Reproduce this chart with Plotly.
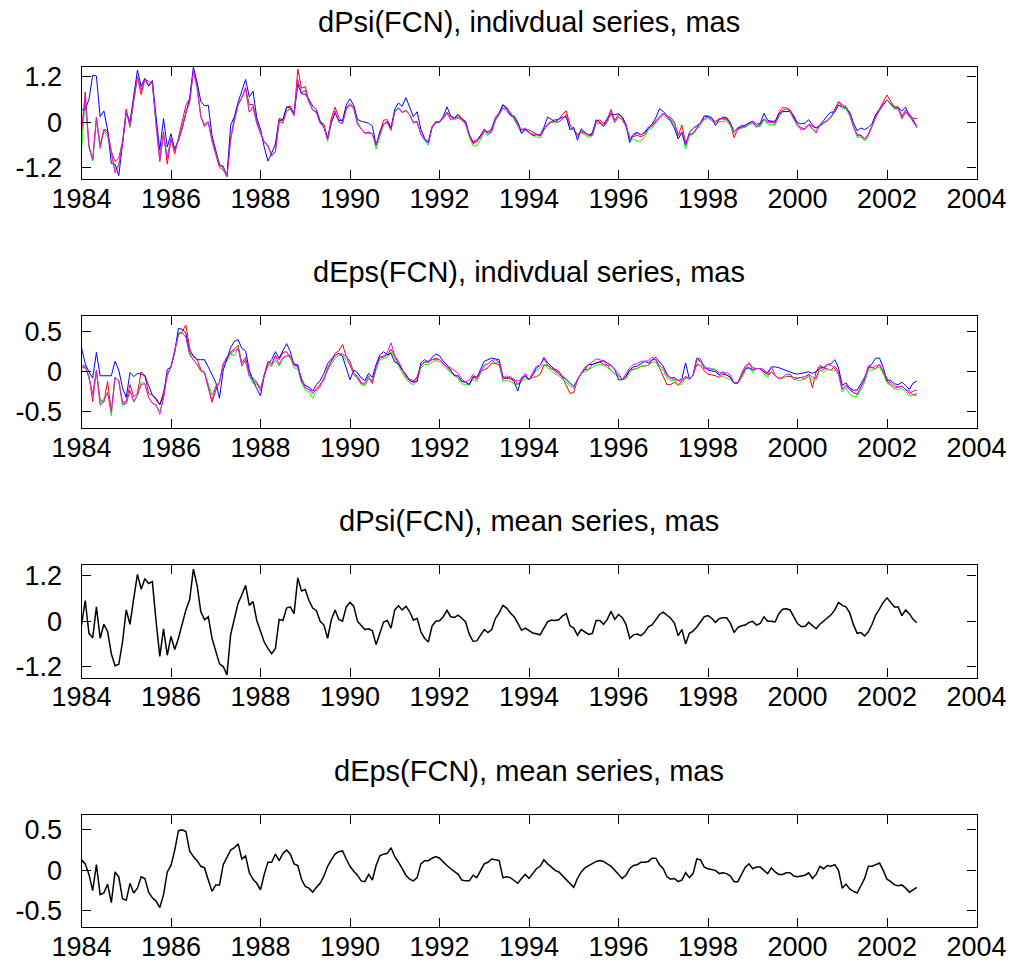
import plotly.graph_objects as go

# ---------------- data (monthly samples starting 1984.0) ----------------
psi_mean_rows = [
    [-0.10, 0.55, -0.32, -0.44, 0.38, -0.45, -0.08, -0.27, -0.86, -1.18, -1.14, -0.55],
    [0.30, -0.08, 0.60, 1.24, 0.85, 1.13, 1.00, 1.05, 0.00, -0.93, -0.20, -0.90],
    [-0.40, -0.75, -0.45, -0.10, 0.30, 0.57, 1.38, 0.95, 0.25, 0.04, 0.12, -0.45],
    [-0.78, -1.13, -1.20, -1.42, -0.35, 0.10, 0.48, 0.70, 0.95, 0.42, 0.52, 0.02],
    [-0.26, -0.55, -0.72, -0.86, -0.72, 0.05, 0.02, 0.35, 0.38, 0.20, 1.15, 0.80],
    [0.84, 0.55, 0.35, 0.28, 0.00, -0.10, -0.45, 0.04, 0.30, 0.05, 0.00, 0.38],
    [0.50, 0.40, 0.00, -0.12, -0.22, -0.20, -0.25, -0.62, -0.30, -0.02, 0.02, -0.18],
    [0.30, 0.41, 0.30, 0.40, 0.25, 0.03, 0.08, -0.28, -0.45, -0.55, -0.13, 0.00],
    [0.01, 0.12, 0.29, 0.12, 0.10, 0.16, 0.08, -0.02, -0.35, -0.53, -0.52, -0.38],
    [-0.22, -0.30, -0.22, 0.08, 0.22, 0.42, 0.35, 0.22, 0.12, -0.05, -0.24, -0.18],
    [-0.25, -0.31, -0.33, -0.36, -0.18, -0.01, 0.03, 0.02, 0.04, 0.14, 0.20, -0.12],
    [-0.18, -0.37, -0.22, -0.28, -0.35, -0.32, 0.02, 0.02, -0.08, 0.05, 0.26, 0.05],
    [0.18, 0.10, -0.08, -0.45, -0.36, -0.34, -0.38, -0.30, -0.15, -0.10, 0.04, 0.18],
    [0.24, 0.15, 0.08, -0.05, -0.38, -0.22, -0.60, -0.32, -0.26, -0.15, -0.02, 0.12],
    [0.15, 0.08, -0.03, 0.07, 0.09, 0.09, -0.05, -0.30, -0.17, -0.12, -0.10, -0.03],
    [0.00, -0.10, -0.06, 0.12, 0.00, 0.00, -0.02, 0.20, 0.32, 0.33, 0.30, 0.12],
    [-0.06, -0.14, -0.14, -0.03, -0.12, -0.20, -0.08, 0.00, 0.08, 0.17, 0.30, 0.50],
    [0.42, 0.38, 0.22, -0.09, -0.32, -0.30, -0.39, -0.28, -0.08, 0.17, 0.33, 0.50],
    [0.62, 0.50, 0.38, 0.38, 0.15, 0.30, 0.20, 0.05, -0.04],
]

eps_mean_rows = [
    [0.13, 0.08, -0.05, -0.25, 0.07, -0.30, -0.28, -0.17, -0.40, -0.02, -0.08, -0.35],
    [-0.37, -0.16, -0.28, -0.22, -0.08, -0.10, -0.27, -0.34, -0.38, -0.46, -0.30, -0.02],
    [0.06, 0.25, 0.49, 0.50, 0.48, 0.24, 0.17, 0.12, 0.05, 0.03, -0.12, -0.26],
    [-0.18, -0.18, 0.07, 0.16, 0.25, 0.28, 0.33, 0.14, 0.18, -0.03, -0.11, -0.16],
    [-0.24, -0.05, 0.10, 0.10, 0.20, 0.12, 0.21, 0.25, 0.20, 0.08, 0.06, -0.11],
    [-0.20, -0.22, -0.27, -0.21, -0.16, -0.07, 0.05, 0.13, 0.20, 0.23, 0.24, 0.14],
    [0.05, -0.01, -0.06, -0.13, -0.14, -0.05, -0.12, 0.06, 0.18, 0.20, 0.21, 0.28],
    [0.17, 0.10, 0.02, -0.06, -0.11, -0.13, -0.09, 0.08, 0.12, 0.12, 0.15, 0.17],
    [0.15, 0.10, 0.06, 0.02, -0.02, -0.05, -0.12, -0.13, -0.13, -0.06, -0.09, 0.00],
    [0.08, 0.10, 0.14, 0.13, 0.12, -0.09, -0.08, -0.09, -0.12, -0.16, -0.10, -0.05],
    [-0.10, -0.04, 0.02, 0.05, 0.13, 0.08, 0.04, 0.00, -0.02, -0.07, -0.12, -0.17],
    [-0.21, -0.10, -0.02, 0.03, 0.06, 0.09, 0.11, 0.12, 0.11, 0.08, 0.05, 0.00],
    [-0.05, -0.10, -0.06, 0.02, 0.06, 0.07, 0.10, 0.10, 0.11, 0.15, 0.15, 0.07],
    [0.02, -0.08, -0.11, -0.10, -0.14, -0.12, -0.03, -0.09, -0.04, 0.14, 0.13, 0.04],
    [0.02, 0.01, 0.00, -0.04, -0.03, -0.04, -0.07, -0.14, -0.14, -0.05, 0.04, 0.08],
    [0.02, 0.04, 0.04, 0.00, -0.04, 0.03, -0.02, -0.05, -0.05, -0.03, -0.03, -0.07],
    [-0.08, -0.07, -0.06, -0.03, -0.10, -0.05, 0.05, 0.02, 0.06, 0.05, 0.07, 0.00],
    [-0.22, -0.17, -0.23, -0.26, -0.28, -0.19, -0.10, 0.05, 0.05, 0.07, 0.09, 0.00],
    [-0.11, -0.14, -0.18, -0.19, -0.18, -0.22, -0.27, -0.24, -0.21],
]

# individual series, as differences from the mean (units of 0.01 mas)
psi_dev_red = [
    [-20, 25, -30, -55, -25, -15, -10, 5, 10, 15, 20, 5],
    [5, -5, -5, -5, -12, 0, 8, -3, -5, -10, -5, -20],
    [-5, -8, 5, 15, 15, 5, -3, 0, -10, -10, -10, -5],
    [-3, -5, -5, 0, -10, 3, 0, -5, -5, 5, -5, 0],
    [-3, 5, 10, 0, -5, 0, 3, 5, 5, 0, 25, 10],
    [10, 0, -3, 0, 2, 5, 0, 8, 10, 8, 2, 0],
    [0, 0, 0, -5, -5, -8, -5, 2, 5, 8, 5, 3],
    [-2, -3, -3, -8, -5, -3, -5, -3, 0, 2, 2, 0],
    [0, 0, -2, 3, 3, 5, 3, 0, 0, -3, 0, 5],
    [5, 0, 2, -2, 0, 3, 5, 3, 0, 3, 3, 0],
    [5, 5, 3, 0, 0, -3, 0, 5, 3, 8, 10, 5],
    [0, 5, -3, 0, 3, 0, 0, 5, 5, 3, 8, 0],
    [3, 3, 0, 5, 0, 0, 0, -3, 0, 0, 0, -3],
    [0, 0, 5, 5, 3, 15, 5, 0, -3, 0, 3, 3],
    [3, 0, 5, 3, 0, 3, 0, -10, 0, 5, 0, 3],
    [0, -3, 3, -3, 0, 3, 0, 5, 7, 5, 3, 3],
    [0, 0, -3, -2, 3, 5, 0, -3, -5, -3, 5, 5],
    [5, 3, 0, -3, -3, -5, -5, -3, 0, 3, 3, 5],
    [10, 5, 3, 3, 0, 3, 0, 5, 14],
]
psi_dev_green = [
    [-60, 0, -35, -58, -32, -25, -15, -10, 5, -8, 5, 0],
    [0, -5, -3, -4, 3, -3, -3, -2, -5, -5, -12, 0],
    [-3, 3, 0, -5, -5, -5, -3, -8, -10, -15, -12, -3],
    [0, 5, -2, 0, -8, -5, -3, -5, -10, -15, -15, -5],
    [-3, 3, 8, -3, -5, -3, -5, -5, -3, -3, -8, -3],
    [0, -3, -3, -3, -3, -2, -5, -3, -5, -5, -4, -5],
    [-5, -3, -3, -5, -8, -5, -5, -8, -5, -3, -3, -3],
    [-3, -4, -5, -8, -5, -5, -7, -4, -3, -5, -2, -2],
    [-2, -3, -5, -5, -3, -5, -3, -3, -5, -8, -10, -5],
    [-5, -5, -3, -3, -3, -3, -5, -3, -5, -5, -5, -3],
    [-3, -3, -5, -5, -3, -5, -3, -3, -3, -5, -5, -2],
    [-3, 0, -5, -5, -5, -3, -5, -5, -3, -5, -5, -5],
    [-3, -5, -3, 0, -8, -15, -12, -8, -5, -5, -5, -8],
    [-5, -5, -3, 0, -5, -5, -10, -5, -5, -5, -5, -5],
    [-5, -3, -3, -5, -5, -5, -5, 0, -3, -3, -3, -3],
    [-3, -2, -5, -5, -5, -5, -5, -5, -5, -3, -3, -5],
    [-5, -5, -5, -5, -5, -3, -3, -3, -3, -5, -3, -3],
    [-5, -3, -5, -5, -8, -8, -10, -8, -5, -3, -3, -3],
    [-3, -3, -3, -3, -5, -5, -3, -5, -2],
]
psi_dev_blue = [
    [42, -20, 92, 168, 84, 60, 38, 7, -22, 8, -26, -5],
    [-5, 10, 10, 13, 10, 3, -5, 5, 15, 20, 30, 25],
    [10, 5, -3, -5, -5, 5, 8, 10, 30, 40, 33, 10],
    [5, 0, 5, 0, 28, 5, 5, 15, 18, 25, 30, 10],
    [8, -10, -30, 5, 15, 5, 5, 5, 0, 5, -15, -5],
    [-10, 5, 8, 5, 3, -3, 5, -5, -5, 0, 5, 8],
    [12, 5, 8, 15, 22, 18, 15, 2, 5, -3, 0, 3],
    [5, 10, 12, 25, 15, 12, 20, 10, 3, 3, 0, 2],
    [0, 3, 12, 5, 0, 3, 0, 5, 3, 0, 5, 3],
    [0, 5, 5, 5, 3, 5, 0, -3, 5, 5, -5, 0],
    [0, -3, 0, 3, 5, 15, 5, 0, 5, 0, -5, -8],
    [5, -10, 5, 3, 0, 5, 5, -3, 0, 5, -3, 15],
    [5, 5, 3, -8, 5, 8, 5, 3, 0, 5, 8, 18],
    [5, 3, -5, -10, -5, -5, 0, 5, 10, 5, 0, 5],
    [0, 5, -5, 0, 5, 3, 5, 5, 3, 0, 3, 0],
    [3, 5, 3, 12, 5, 3, 5, 3, -3, -5, 0, 5],
    [5, 10, 12, 10, 5, 5, 0, 5, 10, 10, -3, -5],
    [0, 0, 5, 8, 10, 15, 20, 15, 5, 3, 0, -3],
    [-3, 0, 0, 0, 15, 10, -5, 3, -10],
]
psi_dev_magenta = [
    [-10, 10, -30, -55, -27, -20, -13, -2, 7, -15, 1, 0],
    [0, 0, -2, -4, -1, 0, 0, 0, -5, -5, -13, -5],
    [-2, 0, -2, -5, -5, -5, -2, -2, -10, -15, -11, -2],
    [-2, 0, 2, 0, -10, -3, -2, -5, -3, -15, -10, -5],
    [-2, 2, 12, -2, -5, -2, -3, -5, -2, -2, -2, -2],
    [0, -2, -2, -2, -2, 0, 0, 0, 0, -3, -3, -3],
    [-5, -2, -5, -5, -7, -5, -5, 3, -3, -2, -2, -3],
    [0, -3, -4, -9, -5, -4, -8, -3, 0, 0, 0, 0],
    [2, 0, -5, -3, 0, -3, 0, -2, 2, 3, 5, -3],
    [0, 0, -3, 0, 0, -5, 0, 3, 0, -3, 5, 3],
    [-2, 0, 2, 2, -2, -5, -2, 0, -3, -3, 0, 5],
    [0, 3, 0, 0, 0, -2, 0, 0, -3, -2, 0, -5],
    [-3, -2, 0, 3, 3, 5, 5, 5, 3, 0, -3, -5],
    [0, 0, 0, 3, 5, -3, 5, 0, -2, 0, 2, -3],
    [0, -2, 3, 2, 0, -2, 0, 5, 0, -2, 0, 0],
    [0, 0, -2, -3, 0, 0, 0, -3, 0, 3, 0, -3],
    [0, -5, -3, -3, -5, -8, 3, 0, -2, -2, 0, 3],
    [0, 0, 0, 0, 0, -3, -5, -5, 0, -3, 0, 0],
    [-3, -2, 0, 0, -5, -3, 0, -3, -8],
]

eps_dev_red = [
    [-8, -3, 0, -12, -5, -5, -10, 5, -10, -5, -3, -3],
    [0, 0, -3, -5, 8, 5, 0, 5, 3, 5, 5, -3],
    [0, 0, -2, 0, 10, 5, 2, 3, -2, -5, -10, -12],
    [-5, 5, 3, 0, 0, 0, 0, -3, 0, 0, 3, 3],
    [3, 0, 3, 0, 0, 3, 3, 0, -3, 3, 0, 0],
    [0, 0, 0, 0, 0, -3, 0, 0, 3, 3, 10, 5],
    [8, 0, 0, 0, -3, -3, 0, 0, 0, 0, 0, 0],
    [3, 0, 0, 0, 0, 0, 3, 0, 0, 0, 0, 0],
    [0, 0, 0, -2, -2, -3, 0, 0, -3, 0, 3, 0],
    [-5, -5, -3, -3, -3, 0, 0, 0, 3, 0, 0, 0],
    [0, -3, -8, -8, -5, 0, 0, 3, 3, 0, -5, -10],
    [-5, 0, 0, 0, -3, 0, 0, 0, -2, 0, -3, -3],
    [0, 0, 0, 0, -3, -3, -3, -3, -3, 0, 0, -3],
    [-8, -8, -5, -3, -3, 0, -3, 0, 0, -5, -5, -3],
    [-5, -5, -5, -3, 0, 0, 0, 0, 0, 3, 3, 3],
    [3, 0, 0, 0, 0, -3, -3, -3, -3, -3, -3, 0],
    [0, 0, -3, 0, -10, 5, 3, 3, -3, -3, 0, 0],
    [0, 0, 3, 0, 0, 0, 0, 0, 0, -3, 0, 0],
    [0, -3, -3, 0, 0, 0, 3, -5, -6],
]
eps_dev_green = [
    [-5, 0, -3, -3, -7, -10, -5, -8, -15, -5, -3, -7],
    [-3, -8, -10, -8, -5, -5, -5, -5, -5, -3, -2, -2],
    [0, -2, 0, -2, -5, -3, -3, -3, -5, -3, -3, -3],
    [0, 5, 0, -3, -3, -8, -3, -5, -5, -3, -3, 0],
    [3, 0, -3, -3, -5, -5, -5, -5, -3, -3, -3, -3],
    [-3, -3, -6, -3, -3, 0, -3, -3, -3, -3, -3, 0],
    [3, 0, -3, -3, -3, -3, -3, -3, -3, -3, -3, -3],
    [0, -3, -3, -3, -3, -3, -3, -3, -3, -3, -3, -3],
    [-3, -3, -3, -3, -3, -3, -3, -3, -3, -3, -3, -3],
    [0, 0, 0, -2, 0, -3, -3, -3, -3, 0, -3, -3],
    [0, 0, 0, 0, -3, -3, -3, -3, -3, -2, 0, 0],
    [0, 0, 0, -3, -3, -3, -3, -3, -3, -3, -3, -3],
    [0, 0, -3, -3, -3, -3, -3, -3, -3, -3, -3, -3],
    [0, 0, 0, 0, -3, -3, -5, 0, 0, 0, 0, 0],
    [3, 3, 3, 0, -3, -3, -3, 0, 0, -3, -3, -3],
    [-3, 0, 0, -3, -3, -3, -3, -3, -3, -3, 0, 0],
    [-3, -3, -3, -3, 0, -5, -3, -3, -3, -3, -5, -3],
    [-3, -3, -5, -5, -3, -3, -3, -3, -3, -3, -3, -3],
    [-3, -3, -3, -3, -3, -3, -3, -5, -9],
]
eps_dev_blue = [
    [17, 2, 5, 17, 17, 25, 23, 12, 35, 15, 10, 15],
    [5, 15, 22, 20, 5, 5, 10, 5, 5, 5, 0, 5],
    [0, 0, 5, 3, 0, 0, 3, 3, 10, 12, 18, 22],
    [5, -15, -5, 0, 5, 10, 7, 15, 8, 5, 0, -5],
    [-6, 0, 0, 5, 5, 5, 5, 10, 5, 0, 3, 0],
    [3, 3, 3, 5, 5, 5, 5, 3, 0, 0, -5, -10],
    [-15, 3, 5, 5, 3, 3, 5, 3, 3, 5, 0, -5],
    [-5, 0, 0, 3, 0, 0, -3, 3, 3, 0, 3, 5],
    [5, 3, 3, 0, -3, 0, 0, 0, -3, 0, 0, 3],
    [5, 5, 3, 3, 3, 3, 0, 3, 0, -8, 3, 0],
    [0, 0, 3, 3, 5, 3, 3, 3, 0, 0, 3, 3],
    [3, 0, 0, 0, 3, 0, 0, 0, 3, 3, 3, 3],
    [-5, 0, 0, 0, 0, 0, 0, 3, 0, 0, 3, 5],
    [5, 5, 3, 3, 3, 3, 14, 0, 0, 3, 0, 3],
    [0, 0, 0, 0, 3, 0, 0, 0, 0, 0, 0, -3],
    [0, 0, 0, 0, 3, 3, 8, 10, 8, 5, 3, 5],
    [5, 5, 5, 3, 8, 5, 0, 3, 3, 5, 8, 5],
    [5, 3, 3, 3, 5, 5, 3, 0, 5, 10, 8, 5],
    [0, 3, 3, 3, 5, 5, 5, 10, 9],
]
eps_dev_magenta = [
    [-5, -2, -2, -3, -5, -12, -8, -9, -10, -5, -4, -5],
    [-2, -7, -9, -7, -8, -5, -5, -5, -3, -7, -3, 0],
    [0, 2, -3, -1, -5, -2, -2, -3, -3, -4, -6, -10],
    [0, 5, 2, 3, -2, -2, -4, -7, -3, -2, 0, 2],
    [0, 0, 0, -2, 0, -3, -3, -5, 0, 0, 0, 3],
    [0, 0, 3, -2, -2, -2, -2, 0, 0, 0, -2, 5],
    [3, -3, -2, -2, 0, 0, -2, 0, 0, -2, 3, 8],
    [3, 3, 2, 0, 2, 2, 0, 0, 0, 2, 0, -2],
    [0, 0, 0, 3, 3, 3, 3, 0, 3, 3, 0, 0],
    [0, 0, 0, 2, 0, 0, 3, 0, 0, 5, 0, 3],
    [0, 3, 5, 3, 3, 0, 0, 0, 0, 2, 2, 3],
    [2, 0, 0, 3, 3, 3, 5, 3, 2, 0, 3, 3],
    [3, 0, 3, 3, 3, 3, 3, 3, 3, 3, 0, 0],
    [3, 3, 3, 0, 3, 0, -3, 0, 0, 3, 3, 0],
    [2, 2, 2, 3, 0, 3, 3, 0, 0, 0, 0, 3],
    [0, 0, 0, 3, 0, 3, -2, -4, -2, 0, 0, -3],
    [0, 0, 0, 0, 3, -3, 0, 0, 3, 3, -3, -3],
    [0, 0, 0, 0, 0, 0, 0, 3, 0, 0, 0, 0],
    [3, 0, 0, 0, 0, 0, 0, 0, -2],
]

start_year = 1984
x_ticks = [1984, 1986, 1988, 1990, 1992, 1994, 1996, 1998, 2000, 2002, 2004]
psi_ticks = [-1.2, 0, 1.2]
psi_tick_text = ["-1.2", "0", "1.2"]
eps_ticks = [-0.5, 0, 0.5]
eps_tick_text = ["-0.5", "0", "0.5"]
titles = ["dPsi(FCN), indivdual series, mas",
          "dEps(FCN), indivdual series, mas",
          "dPsi(FCN), mean series, mas",
          "dEps(FCN), mean series, mas"]


def flat(rows):
    return [v for r in rows for v in r]


psi_mean = flat(psi_mean_rows)
eps_mean = flat(eps_mean_rows)
t = [start_year + k / 12.0 for k in range(len(psi_mean))]


def add_dev(mean, dev_rows):
    d = flat(dev_rows)
    return [m + v / 100.0 for m, v in zip(mean, d)]


psi_ind = [add_dev(psi_mean, r) for r in (psi_dev_red, psi_dev_green, psi_dev_blue, psi_dev_magenta)]
eps_ind = [add_dev(eps_mean, r) for r in (eps_dev_red, eps_dev_green, eps_dev_blue, eps_dev_magenta)]
colors = ["#ff0000", "#00ff00", "#0000ff", "#ff00ff"]

# ---------------- figure ----------------
W, H = 1016, 972
left_px, right_px = 81.5, 976.5
tops = [66.5, 315.5, 565.0, 814.5]
ph = 112.5
yranges = [[-1.49, 1.47], [-0.70, 0.70], [-1.49, 1.49], [-0.70, 0.69]]

fig = go.Figure()
FONT = "Liberation Sans, Arial, sans-serif"

for i in range(4):
    xa = "x" if i == 0 else f"x{i+1}"
    ya = "y" if i == 0 else f"y{i+1}"
    if i == 0:
        for s, c in zip(psi_ind, colors):
            fig.add_trace(go.Scatter(x=t, y=s, mode="lines", line=dict(color=c, width=1),
                                     xaxis=xa, yaxis=ya, showlegend=False))
    elif i == 1:
        for s, c in zip(eps_ind, colors):
            fig.add_trace(go.Scatter(x=t, y=s, mode="lines", line=dict(color=c, width=1),
                                     xaxis=xa, yaxis=ya, showlegend=False))
    elif i == 2:
        fig.add_trace(go.Scatter(x=t, y=psi_mean, mode="lines", line=dict(color="black", width=1.5),
                                 xaxis=xa, yaxis=ya, showlegend=False))
    else:
        fig.add_trace(go.Scatter(x=t, y=eps_mean, mode="lines", line=dict(color="black", width=1.5),
                                 xaxis=xa, yaxis=ya, showlegend=False))

    top = tops[i]
    bot = top + ph
    axis_common = dict(showline=True, linecolor="black", linewidth=1.3, mirror="ticks",
                       ticks="inside", ticklen=9, tickwidth=1, tickcolor="black",
                       showgrid=False, zeroline=False, automargin=False,
                       tickfont=dict(family=FONT, size=27, color="black"))
    xkey = "xaxis" if i == 0 else f"xaxis{i+1}"
    ykey = "yaxis" if i == 0 else f"yaxis{i+1}"
    fig.update_layout(**{
        xkey: dict(domain=[left_px / W, right_px / W], range=[1984, 2004],
                   tickvals=x_ticks, ticktext=[str(v) for v in x_ticks],
                   ticklabelstandoff=-5, anchor=ya, **axis_common),
        ykey: dict(domain=[1 - bot / H, 1 - top / H], range=yranges[i],
                   tickvals=psi_ticks if i in (0, 2) else eps_ticks,
                   ticktext=psi_tick_text if i in (0, 2) else eps_tick_text,
                   ticklabelstandoff=13, anchor=xa, **axis_common),
    })
    fig.add_annotation(text=titles[i], xref="paper", yref="paper",
                       x=(left_px + right_px) / 2 / W, y=1 - (top - 44) / H,
                       xanchor="center", yanchor="middle", showarrow=False,
                       font=dict(family=FONT, size=29, color="black"))

fig.update_layout(width=W, height=H, margin=dict(l=0, r=0, t=0, b=0),
                  paper_bgcolor="white", plot_bgcolor="white")
fig.write_html("out.html")
